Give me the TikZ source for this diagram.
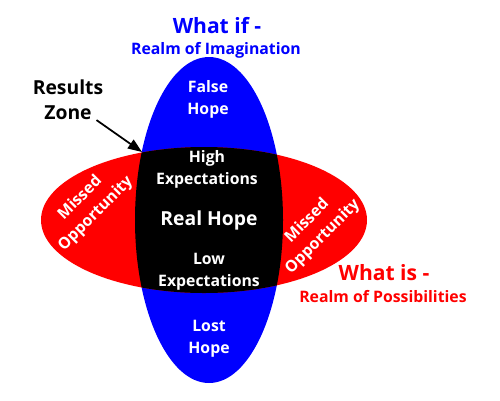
\documentclass[tikz,border=0pt]{standalone}
\usepackage{fontspec}
\setmainfont{Open Sans}
\usepackage{tikz}
\usetikzlibrary{arrows.meta,positioning}

\begin{document}
\begin{tikzpicture}[
  x=0.02cm, y=-0.02cm,
  node distance=0pt,
  inside/.style={text=white, align=center, inner sep=0pt,
                 font=\bfseries\fontsize{9}{12.5}\selectfont},
  bigtitle/.style={inner sep=0pt, font=\bfseries\fontsize{12}{14}\selectfont},
  subtitle/.style={inner sep=0pt, font=\bfseries\fontsize{9}{11}\selectfont},
  arrow/.style={-{Triangle[length=8pt,width=6pt]}, line width=1pt}
]
\useasboundingbox (0,0) rectangle (500,400);
% imagination and possibilities
\fill[blue] (209,220) ellipse [x radius=74, y radius=163];
\fill[red] (204,220) ellipse [x radius=163, y radius=73];
\begin{scope}
  \clip (209,220) ellipse [x radius=74, y radius=163];
  \fill[black] (204,220) ellipse [x radius=163, y radius=73];
\end{scope}
\coordinate (zonetip) at (142,152);

\node[bigtitle, text=blue] (whatif) at (217,26) {What if -};
\node[subtitle, text=blue] (imagination) at (216,50) {Realm of Imagination};
\node[bigtitle, text=red] (whatis) at (384,273) {What is -};
\node[subtitle, text=red] (possibilities) at (383,297) {Realm of Possibilities};
\node[inside, text=black, font=\bfseries\fontsize{11}{14}\selectfont] (results) at (68,100) {Results\\Zone};

\node[inside] (falsehope) at (208,99) {False\\Hope};
\node[inside] (high) at (207,169) {High\\Expectations};
\node[inside, font=\bfseries\fontsize{11}{14}\selectfont] (realhope) at (209,220) {Real Hope};
\node[inside] (low) at (209,272) {Low\\Expectations};
\node[inside] (losthope) at (209,339) {Lost\\Hope};
\node[inside, rotate=45] (missedleft) at (88,206) {Missed\\Opportunity};
\node[inside, rotate=45] (missedright) at (315,229) {Missed\\Opportunity};

\draw[arrow] (results.south east) ++(-4pt,0pt) coordinate (zonetail) -- (zonetip);
\end{tikzpicture}
\end{document}
